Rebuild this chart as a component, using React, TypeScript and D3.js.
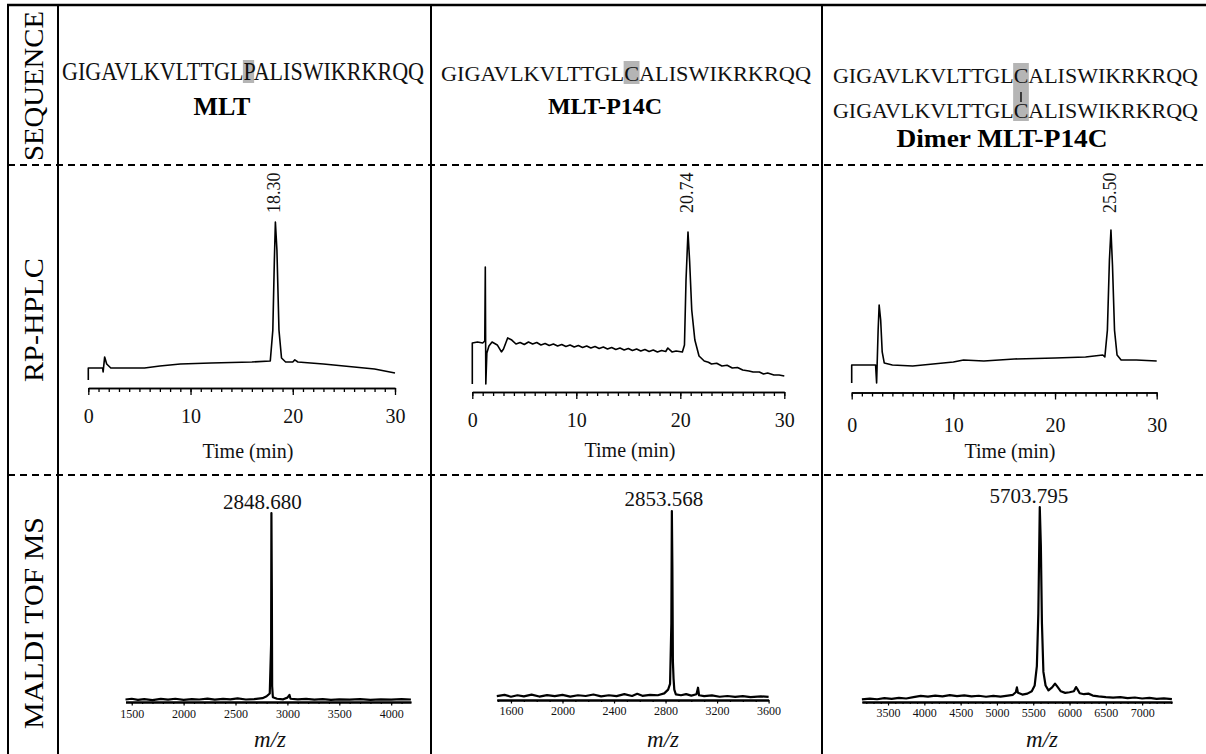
import React, { useRef, useEffect } from 'react';
import * as d3 from 'd3';

const SERIF = '"Liberation Serif", "Times New Roman", Times, serif';

// ---- data ----
const rowLabels = ['SEQUENCE', 'RP-HPLC', 'MALDI TOF MS'];
const seqMLT = ['GIGAVLKVLTTGLPALISWIKRKRQQ'];
const seqP14C = ['GIGAVLKVLTTGLCALISWIKRKRQQ'];
const seqDimer = ['GIGAVLKVLTTGLCALISWIKRKRQQ', 'GIGAVLKVLTTGLCALISWIKRKRQQ'];
const peptideNames = ['MLT', 'MLT-P14C', 'Dimer MLT-P14C'];
const mutatedResidue = 13; // position 14

const hplcTicks = [0, 10, 20, 30];
const hplcRetention = ['18.30', '20.74', '25.50'];
// [time (min), signal (% of main peak)]
const hplcMLT: [number, number][] = [
  [0, 0], [0, 7.6], [1.4, 7.6], [1.45, 5.1], [1.6, 14.6], [1.8, 10.1], [2.2, 7.6], [5.5, 7.6],
  [7, 8.9], [9, 10.1], [12, 10.8], [16, 11.4], [17.8, 12.0], [18.05, 31.6], [18.2, 75.9],
  [18.3, 100], [18.45, 82.3], [18.65, 31.6], [18.9, 13.9], [19.3, 11.4], [20, 11.4],
  [20.2, 12.7], [20.5, 11.4], [23, 10.1], [26, 8.2], [28, 7.0], [30, 4.4],
];
const hplcP14C: [number, number][] = [
  [0, 0], [0, 27.0], [0.5, 27.6], [1.0, 27.0], [1.2, 28.3], [1.25, 77.0], [1.3, 0], [1.4, 20.4],
  [1.6, 25.0], [1.9, 27.6], [2.4, 25.7], [2.8, 21.1], [3.0, 23.0], [3.4, 30.3], [3.8, 28.9],
  [4.2, 26.3], [4.6, 27.3], [5, 26.0], [5.4, 27.6], [5.8, 26.3], [6.2, 27.3], [6.6, 25.7],
  [7, 26.6], [7.4, 25.3], [7.8, 26.3], [8.2, 25.0], [8.6, 26.0], [9, 24.7], [9.4, 25.7],
  [9.8, 24.3], [10.2, 25.3], [10.6, 24.0], [11, 25.0], [11.4, 23.7], [11.8, 24.7], [12.2, 23.4],
  [12.6, 24.3], [13, 23.0], [13.4, 24.0], [13.8, 22.7], [14.2, 23.7], [14.6, 22.4], [15, 23.4],
  [15.4, 22.0], [15.8, 23.0], [16.2, 21.7], [16.6, 22.7], [17, 21.4], [17.4, 22.4], [17.8, 21.1],
  [18.2, 22.0], [18.6, 21.4], [18.8, 23.7], [19.2, 21.1], [19.6, 21.7], [20.2, 21.1],
  [20.4, 25.7], [20.55, 68.4], [20.74, 100], [20.9, 80.3], [21.1, 48.7], [21.4, 28.9],
  [21.8, 18.4], [22.3, 15.1], [22.7, 14.3], [23, 13.2], [23.5, 13.6], [24, 11.8], [24.5, 12.3],
  [25, 10.5], [25.5, 10.9], [26, 9.2], [26.6, 8.6], [27, 7.9], [27.6, 7.9], [28, 6.6],
  [28.4, 7.2], [29, 5.9], [29.5, 5.9], [30, 5.3],
];
const hplcDimer: [number, number][] = [
  [0, 0], [0, 11.8], [2.35, 11.8], [2.45, 0], [2.6, 34.6], [2.7, 51.0], [2.85, 41.2], [3.0, 20.3],
  [3.2, 13.1], [4, 11.8], [6, 11.1], [8, 12.4], [10, 13.7], [11, 15.0], [13, 14.4], [16, 15.7],
  [20, 16.3], [23, 17.0], [24.7, 18.3], [24.9, 17.0], [25.15, 34.6], [25.35, 80.4], [25.5, 100],
  [25.65, 77.1], [25.85, 34.6], [26.1, 18.3], [26.5, 15.0], [28, 15.0], [30, 14.4],
];

const msPeakLabels = ['2848.680', '2853.568', '5703.795'];
const msTicksMLT = [1500, 2000, 2500, 3000, 3500, 4000];
const msTicksP14C = [1600, 2000, 2400, 2800, 3200, 3600];
const msTicksDimer = [3500, 4000, 4500, 5000, 5500, 6000, 6500, 7000];
// [m/z, relative intensity %]
const msMLT: [number, number][] = [
  [1440, 0.8], [1500, 1.2], [1560, 0.6], [1620, 1.0], [1700, 0.5], [1780, 1.1], [1850, 0.7],
  [1920, 1.2], [2000, 0.6], [2080, 1.0], [2150, 0.8], [2230, 1.3], [2300, 0.7], [2380, 1.1],
  [2450, 0.9], [2520, 1.4], [2600, 0.8], [2680, 1.0], [2760, 1.5], [2800, 2.5], [2830, 4],
  [2843, 30], [2846, 100], [2850, 60], [2853, 8], [2860, 2], [2900, 1.2], [2960, 0.9],
  [3000, 1.8], [3020, 3.2], [3030, 1.2], [3100, 0.9], [3180, 1.1], [3260, 0.7], [3340, 1.0],
  [3420, 0.6], [3500, 0.9], [3600, 0.7], [3700, 1.0], [3800, 0.6], [3900, 0.9], [4000, 0.7],
  [4100, 1.0], [4190, 0.8],
];
const msP14C: [number, number][] = [
  [1490, 1.5], [1550, 2.2], [1600, 1.2], [1650, 2.0], [1700, 1.4], [1760, 2.3], [1820, 1.3],
  [1880, 2.1], [1940, 1.5], [2000, 2.2], [2060, 1.3], [2120, 2.0], [2180, 1.6], [2240, 2.4],
  [2300, 1.4], [2360, 2.0], [2420, 1.5], [2480, 2.6], [2540, 1.6], [2580, 2.8], [2620, 1.7],
  [2680, 2.2], [2740, 2.0], [2790, 3.0], [2820, 5], [2835, 8], [2845, 40], [2849, 100],
  [2853, 70], [2857, 20], [2862, 11], [2868, 5], [2880, 2.5], [2920, 2.0], [2960, 2.6],
  [3000, 1.8], [3040, 2.5], [3052, 6], [3060, 2.0], [3100, 1.5], [3160, 1.9], [3220, 1.2],
  [3280, 1.6], [3340, 1.1], [3400, 1.5], [3460, 1.0], [3540, 1.4], [3600, 1.1],
];
const msDimer: [number, number][] = [
  [3140, 0.8], [3250, 1.2], [3350, 0.9], [3450, 1.5], [3550, 1.1], [3650, 1.6], [3750, 1.3],
  [3850, 2.0], [3950, 2.6], [4050, 2.3], [4150, 2.8], [4250, 2.4], [4350, 3.0], [4450, 2.5],
  [4550, 2.9], [4650, 2.4], [4750, 2.7], [4850, 2.2], [4950, 2.6], [5050, 2.3], [5150, 2.8],
  [5220, 3.2], [5260, 4.5], [5275, 7.0], [5290, 4.2], [5350, 3.3], [5420, 3.8], [5480, 5.0],
  [5520, 8], [5550, 18], [5570, 45], [5590, 100], [5605, 80], [5620, 40], [5640, 15], [5670, 8],
  [5710, 5.5], [5760, 7], [5800, 9], [5830, 7.5], [5880, 5], [5940, 4.2], [6000, 4.5],
  [6060, 5], [6090, 7.2], [6110, 6.0], [6140, 4.0], [6200, 3.5], [6260, 3.8], [6320, 2.8],
  [6400, 2.4], [6500, 2.0], [6600, 1.7], [6700, 2.0], [6800, 1.5], [6900, 1.8], [7000, 1.3],
  [7100, 1.6], [7200, 1.1], [7300, 1.4], [7410, 1.0],
];

// ---- layout ----
const W = 1206;
const H = 754;
const vLines = [8, 58, 431, 822];
const dashY = [165, 475];
const rowLabelPos = [{ cy: 86, len: 150 }, { cy: 320, len: 124 }, { cy: 623, len: 212 }];

const seqLayout = [
  { lines: seqMLT, x0: 62, len: 362, base: [80], fs: 25, nameX: 222, nameY: 115, nameFs: 26, nameLen: 0 },
  { lines: seqP14C, x0: 441, len: 370, base: [81], fs: 22, nameX: 605, nameY: 114, nameFs: 24, nameLen: 0 },
  { lines: seqDimer, x0: 833, len: 365, base: [83, 118], fs: 20, nameX: 1002, nameY: 147, nameFs: 25, nameLen: 211 },
];

const hplcLayout = [
  { data: hplcMLT, x0: 88.3, x1: 395, axisY: 388, y0: 380, yTop: 222, tickY: 423, timeX: 248, timeY: 458 },
  { data: hplcP14C, x0: 472.3, x1: 784.3, axisY: 392, y0: 384, yTop: 232, tickY: 427, timeX: 630, timeY: 457 },
  { data: hplcDimer, x0: 851.7, x1: 1156.7, axisY: 392.5, y0: 383, yTop: 230, tickY: 432, timeX: 1010, timeY: 458 },
];

const msLayout = [
  { data: msMLT, ticks: msTicksMLT, domain: [1440, 4190], x0: 125.5, x1: 410.9, axisY: 702, yTop: 513, tickY: 718, mzX: 270, labelY: 509, dx: -9 },
  { data: msP14C, ticks: msTicksP14C, domain: [1490, 3600], x0: 496.8, x1: 768.6, axisY: 700, yTop: 511, tickY: 715, mzX: 663, labelY: 506, dx: -8 },
  { data: msDimer, ticks: msTicksDimer, domain: [3140, 7410], x0: 861.9, x1: 1171.9, axisY: 702, yTop: 507, tickY: 717, mzX: 1042, labelY: 503, dx: -11 },
];

function App() {
  const ref = useRef<SVGSVGElement>(null);

  useEffect(() => {
    const svg = d3.select(ref.current);
    svg.selectAll('*').remove();
    svg.append('rect').attr('width', W).attr('height', H).attr('fill', '#fff');

    // frame
    svg.append('line').attr('x1', 7).attr('x2', W).attr('y1', 5).attr('y2', 5)
      .attr('stroke', '#000').attr('stroke-width', 2.5);
    vLines.forEach((x) => {
      svg.append('line').attr('x1', x).attr('x2', x).attr('y1', 4).attr('y2', H)
        .attr('stroke', '#000').attr('stroke-width', 2);
    });
    dashY.forEach((y) => {
      svg.append('line').attr('x1', 8).attr('x2', W).attr('y1', y).attr('y2', y)
        .attr('stroke', '#000').attr('stroke-width', 2).attr('stroke-dasharray', '7,5');
    });

    // row labels
    rowLabels.forEach((t, i) => {
      svg.append('text')
        .attr('transform', `translate(43,${rowLabelPos[i].cy}) rotate(-90)`)
        .attr('text-anchor', 'middle')
        .attr('font-family', SERIF).attr('font-size', 27)
        .attr('textLength', rowLabelPos[i].len).attr('lengthAdjust', 'spacingAndGlyphs')
        .text(t);
    });

    // sequences
    seqLayout.forEach((s, i) => {
      const hl = svg.append('g');
      const texts = s.lines.map((line, j) =>
        svg.append('text')
          .attr('x', s.x0).attr('y', s.base[j])
          .attr('font-family', SERIF).attr('font-size', s.fs).attr('fill', '#111')
          .attr('textLength', s.len).attr('lengthAdjust', 'spacingAndGlyphs')
          .text(line)
      );
      const ext = (texts[0].node() as SVGTextElement).getExtentOfChar(mutatedResidue);
      const top = s.base[0] - 20;
      const bottom = s.base[s.base.length - 1] + 3;
      hl.append('rect')
        .attr('x', ext.x - 0.5).attr('width', ext.width + 1)
        .attr('y', top).attr('height', bottom - top)
        .attr('fill', '#b5b5b5');
      if (s.lines.length > 1) {
        const cx = ext.x + ext.width / 2;
        svg.append('line').attr('x1', cx).attr('x2', cx)
          .attr('y1', s.base[0] + 9).attr('y2', s.base[1] - 16)
          .attr('stroke', '#111').attr('stroke-width', 1.5);
      }
      const name = svg.append('text')
        .attr('x', s.nameX).attr('y', s.nameY)
        .attr('text-anchor', 'middle')
        .attr('font-family', SERIF).attr('font-weight', 'bold').attr('font-size', s.nameFs)
        .text(peptideNames[i]);
      if (s.nameLen) name.attr('textLength', s.nameLen).attr('lengthAdjust', 'spacingAndGlyphs');
    });

    // RP-HPLC chromatograms
    hplcLayout.forEach((p, i) => {
      const x = d3.scaleLinear().domain([0, 30]).range([p.x0, p.x1]);
      const y = d3.scaleLinear().domain([0, 100]).range([p.y0, p.yTop]);
      const g = svg.append('g');

      const minor = d3.axisBottom(x).tickValues(d3.range(0, 31)).tickSize(4).tickSizeOuter(0).tickFormat(() => '');
      const major = d3.axisBottom(x).tickValues(hplcTicks).tickSize(7).tickSizeOuter(0).tickFormat(d3.format('d'));
      [minor, major].forEach((a) => {
        const ag = g.append('g').attr('transform', `translate(0,${p.axisY})`).call(a);
        ag.select('.domain').attr('stroke-width', 1.5);
        ag.selectAll('.tick line').attr('stroke-width', 1.3);
        ag.selectAll('.tick text')
          .attr('y', p.tickY - p.axisY).attr('dy', 0)
          .attr('font-family', SERIF).attr('font-size', 20).attr('fill', '#111');
      });

      g.append('path')
        .datum(p.data)
        .attr('d', d3.line<[number, number]>().x((d) => x(d[0])).y((d) => y(d[1])))
        .attr('fill', 'none').attr('stroke', '#000').attr('stroke-width', 1.6)
        .attr('stroke-linejoin', 'round');

      const peak = p.data.reduce((a, b) => (b[1] > a[1] ? b : a));
      g.append('text')
        .attr('transform', `translate(${x(peak[0]) + 5},213) rotate(-90)`)
        .attr('font-family', SERIF).attr('font-size', 18).attr('fill', '#111')
        .text(hplcRetention[i]);

      g.append('text')
        .attr('x', p.timeX).attr('y', p.timeY).attr('text-anchor', 'middle')
        .attr('font-family', SERIF).attr('font-size', 20).attr('fill', '#111')
        .text('Time (min)');
    });

    // MALDI TOF MS spectra
    msLayout.forEach((p, i) => {
      const x = d3.scaleLinear().domain(p.domain).range([p.x0, p.x1]);
      const y = d3.scaleLinear().domain([0, 100]).range([p.axisY - 1, p.yTop]);
      const g = svg.append('g');

      const minorVals = d3.range(Math.ceil(p.domain[0] / 100) * 100, p.domain[1], 100);
      const minor = d3.axisBottom(x).tickValues(minorVals).tickSize(2).tickSizeOuter(0).tickFormat(() => '');
      const major = d3.axisBottom(x).tickValues(p.ticks).tickSize(3.5).tickSizeOuter(0).tickFormat(d3.format('d'));
      [minor, major].forEach((a) => {
        const ag = g.append('g').attr('transform', `translate(0,${p.axisY})`).call(a);
        ag.select('.domain').attr('stroke-width', 2);
        ag.selectAll('.tick line').attr('stroke-width', 1.2);
        ag.selectAll('.tick text')
          .attr('y', p.tickY - p.axisY).attr('dy', 0)
          .attr('font-family', SERIF).attr('font-size', 12).attr('fill', '#111');
      });

      g.append('path')
        .datum(p.data)
        .attr('d', d3.line<[number, number]>().x((d) => x(d[0])).y((d) => y(d[1])))
        .attr('fill', 'none').attr('stroke', '#000').attr('stroke-width', 2.2)
        .attr('stroke-linejoin', 'round');

      const peak = p.data.reduce((a, b) => (b[1] > a[1] ? b : a));
      g.append('text')
        .attr('x', x(peak[0]) + p.dx).attr('y', p.labelY).attr('text-anchor', 'middle')
        .attr('font-family', SERIF).attr('font-size', 21).attr('fill', '#111')
        .text(msPeakLabels[i]);

      g.append('text')
        .attr('x', p.mzX).attr('y', 747).attr('text-anchor', 'middle')
        .attr('font-family', SERIF).attr('font-style', 'italic').attr('font-size', 23).attr('fill', '#111')
        .text('m/z');
    });
  }, []);

  return (
    <svg ref={ref} width={W} height={H} style={{ position: 'absolute', left: 0, top: 0 }} />
  );
}

export default App;
